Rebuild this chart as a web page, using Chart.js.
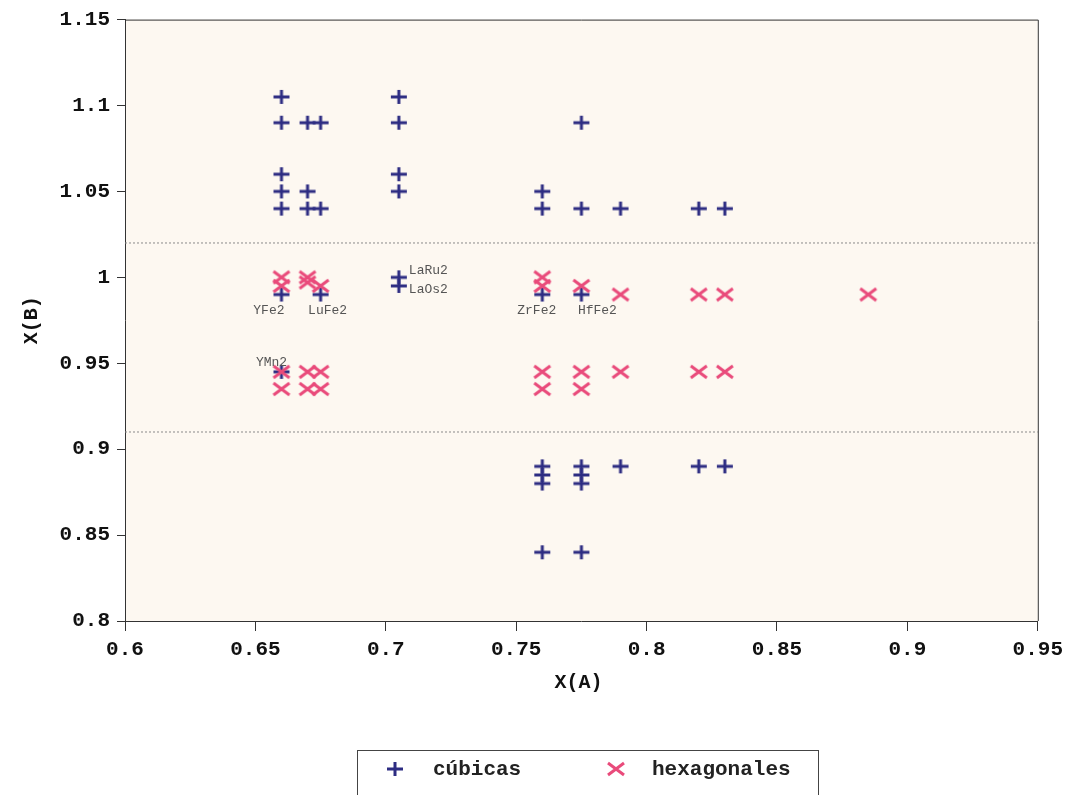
<!DOCTYPE html>
<html>
<head>
<meta charset="utf-8">
<style>
  html, body { margin: 0; padding: 0; background: #fff; }
  #wrap { width: 1069px; height: 795px; }
</style>
</head>
<body>
<div id="wrap"><canvas id="chart" width="1069" height="795"></canvas></div>

<script src="https://cdn.jsdelivr.net/npm/chart.js"></script>
<script>
  // cubic compounds
  const cubicX = [0.66, 0.705,
    0.66, 0.67, 0.675, 0.705, 0.775,
    0.66, 0.705,
    0.66, 0.67, 0.705, 0.76,
    0.66, 0.67, 0.675, 0.76, 0.775, 0.79, 0.82, 0.83,
    0.705, 0.705,
    0.66, 0.675, 0.76, 0.775,
    0.66,
    0.76, 0.76, 0.76, 0.775, 0.775, 0.775, 0.79, 0.82, 0.83,
    0.76, 0.775];
  const cubicY = [1.105, 1.105,
    1.09, 1.09, 1.09, 1.09, 1.09,
    1.06, 1.06,
    1.05, 1.05, 1.05, 1.05,
    1.04, 1.04, 1.04, 1.04, 1.04, 1.04, 1.04, 1.04,
    1.0, 0.995,
    0.99, 0.99, 0.99, 0.99,
    0.945,
    0.89, 0.885, 0.88, 0.89, 0.885, 0.88, 0.89, 0.89, 0.89,
    0.84, 0.84];

  // hexagonal compounds
  const hexX = [0.66, 0.66, 0.67, 0.67, 0.675,
    0.76, 0.76, 0.775, 0.79, 0.82, 0.83, 0.885,
    0.66, 0.66, 0.67, 0.67, 0.675, 0.675,
    0.76, 0.76, 0.775, 0.775, 0.79, 0.82, 0.83];
  const hexY = [1.0, 0.995, 1.0, 0.997, 0.995,
    1.0, 0.995, 0.995, 0.99, 0.99, 0.99, 0.99,
    0.945, 0.935, 0.945, 0.935, 0.945, 0.935,
    0.945, 0.935, 0.945, 0.935, 0.945, 0.945, 0.945];

  // dotted separators
  const limitsY = [1.02, 0.91];

  // named compounds
  const compoundNames = ['YFe2', 'LuFe2', 'LaRu2', 'LaOs2', 'ZrFe2', 'HfFe2', 'YMn2'];
  const compoundX = [0.66, 0.675, 0.705, 0.705, 0.76, 0.775, 0.66];
  const compoundY = [0.99, 0.99, 1.0, 0.995, 0.99, 0.99, 0.945];

  const xTicks = [0.6, 0.65, 0.7, 0.75, 0.8, 0.85, 0.9, 0.95];
  const yTicks = [0.8, 0.85, 0.9, 0.95, 1.0, 1.05, 1.1, 1.15];

  const seriesNames = ['cúbicas', 'hexagonales'];

  const NAVY = '#2d2c82';
  const PINK = '#e94b7b';
  const MONO = "'Liberation Mono', 'Courier New', monospace";

  function plusMark(color) {
    const c = document.createElement('canvas');
    c.width = 18; c.height = 16;
    const g = c.getContext('2d');
    g.strokeStyle = color;
    g.lineWidth = 3;
    g.beginPath();
    g.moveTo(1, 8); g.lineTo(17, 8);
    g.moveTo(9, 1); g.lineTo(9, 15);
    g.stroke();
    return c;
  }

  function crossMark(color) {
    const c = document.createElement('canvas');
    c.width = 20; c.height = 16;
    const g = c.getContext('2d');
    g.strokeStyle = color;
    g.lineWidth = 3;
    g.beginPath();
    g.moveTo(2, 2); g.lineTo(18, 14);
    g.moveTo(2, 14); g.lineTo(18, 2);
    g.stroke();
    return c;
  }

  const plusImg = plusMark(NAVY);
  const crossImg = crossMark(PINK);

  const toPoints = (xs, ys) => xs.map((x, i) => ({ x: x, y: ys[i] }));

  // label offsets relative to the marker (px)
  const labelPlace = {
    YFe2:  { dx: 3,  dy: 16, align: 'right' },
    LuFe2: { dx: 7,  dy: 16, align: 'center' },
    LaRu2: { dx: 10, dy: -7, align: 'left' },
    LaOs2: { dx: 10, dy: 4,  align: 'left' },
    ZrFe2: { dx: 14, dy: 16, align: 'right' },
    HfFe2: { dx: 16, dy: 16, align: 'center' },
    YMn2:  { dx: -10, dy: -9, align: 'center' }
  };

  const decor = {
    id: 'decor',
    beforeDraw(chart) {
      const { ctx, chartArea: a } = chart;
      ctx.save();
      ctx.fillStyle = '#ffffff';
      ctx.fillRect(0, 0, chart.width, chart.height);
      ctx.fillStyle = '#fdf8f1';
      ctx.fillRect(a.left, a.top, a.right - a.left, a.bottom - a.top);
      ctx.restore();
    },
    afterDraw(chart) {
      const { ctx, chartArea: a, scales } = chart;
      ctx.save();

      // frame top and right
      ctx.strokeStyle = '#333';
      ctx.lineWidth = 1;
      ctx.beginPath();
      ctx.moveTo(a.left, a.top + 0.5);
      ctx.lineTo(a.right + 0.5, a.top + 0.5);
      ctx.lineTo(a.right + 0.5, a.bottom);
      ctx.stroke();

      // compound labels
      ctx.font = '13px ' + MONO;
      ctx.fillStyle = '#555';
      ctx.textBaseline = 'middle';
      compoundNames.forEach((name, i) => {
        const p = labelPlace[name];
        const px = scales.x.getPixelForValue(compoundX[i]);
        const py = scales.y.getPixelForValue(compoundY[i]);
        ctx.textAlign = p.align;
        ctx.fillText(name, px + p.dx, py + p.dy);
      });

      // axis titles
      ctx.fillStyle = '#111';
      ctx.font = 'bold 20px ' + MONO;
      ctx.textAlign = 'center';
      ctx.fillText('X(A)', (a.left + a.right) / 2 - 3, 683);
      ctx.save();
      ctx.translate(32, (a.top + a.bottom) / 2);
      ctx.rotate(-Math.PI / 2);
      ctx.fillText('X(B)', 0, 0);
      ctx.restore();

      // legend box
      ctx.strokeStyle = '#444';
      ctx.lineWidth = 1;
      ctx.strokeRect(357.5, 750.5, 461, 60);
      ctx.drawImage(plusImg, 395 - 9, 769 - 8);
      ctx.drawImage(crossImg, 616 - 10, 769 - 8);
      ctx.font = 'bold 21px ' + MONO;
      ctx.fillStyle = '#222';
      ctx.textAlign = 'left';
      ctx.fillText(seriesNames[0], 433, 770);
      ctx.fillText(seriesNames[1], 652, 770);

      ctx.restore();
    }
  };

  const fmt = v => String(Number(v.toFixed(2)));

  new Chart(document.getElementById('chart'), {
    type: 'scatter',
    data: {
      datasets: [
        ...limitsY.map(v => ({
          type: 'line',
          data: [{ x: xTicks[0], y: v }, { x: xTicks[xTicks.length - 1], y: v }],
          borderColor: '#8a8a8a',
          borderWidth: 1,
          borderDash: [2, 2],
          pointRadius: 0,
          order: 3
        })),
        {
          label: seriesNames[0],
          data: toPoints(cubicX, cubicY),
          pointStyle: plusImg,
          order: 2
        },
        {
          label: seriesNames[1],
          data: toPoints(hexX, hexY),
          pointStyle: crossImg,
          order: 1
        }
      ]
    },
    options: {
      responsive: false,
      animation: false,
      layout: { padding: { top: 19, right: 31, bottom: 105, left: 0 } },
      plugins: {
        legend: { display: false },
        tooltip: { enabled: false }
      },
      scales: {
        x: {
          type: 'linear',
          min: 0.6, max: 0.95,
          afterBuildTicks: s => { s.ticks = xTicks.map(v => ({ value: v })); },
          afterFit: s => { s.height = 69; },
          ticks: {
            callback: v => fmt(v),
            color: '#111',
            font: { family: MONO, size: 21, weight: 'bold' },
            padding: 6,
            maxRotation: 0
          },
          grid: { drawOnChartArea: false, tickLength: 10, color: '#333' },
          border: { color: '#333', width: 1 }
        },
        y: {
          type: 'linear',
          min: 0.8, max: 1.15,
          afterBuildTicks: s => { s.ticks = yTicks.map(v => ({ value: v })); },
          afterFit: s => { s.width = 125; },
          ticks: {
            callback: v => fmt(v),
            color: '#111',
            font: { family: MONO, size: 21, weight: 'bold' },
            padding: 7
          },
          grid: { drawOnChartArea: false, tickLength: 8, color: '#333' },
          border: { color: '#333', width: 1 }
        }
      }
    },
    plugins: [decor]
  });
</script>
</body>
</html>
